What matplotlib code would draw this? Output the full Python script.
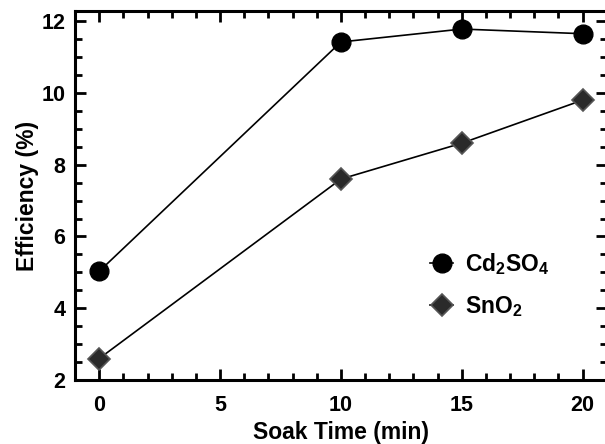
import matplotlib
matplotlib.use("Agg")
import matplotlib.pyplot as plt
from matplotlib.ticker import MultipleLocator

plt.rcParams['font.family'] = 'Liberation Sans'
plt.rcParams['font.weight'] = 'bold'
plt.rcParams['mathtext.fontset'] = 'custom'
plt.rcParams['mathtext.rm'] = 'Liberation Sans:bold'
plt.rcParams['mathtext.bf'] = 'Liberation Sans:bold'
plt.rcParams['mathtext.it'] = 'Liberation Sans:bold'

# data
soak_time = [0, 10, 15, 20]
cd2so4 = [5.03, 11.42, 11.78, 11.65]
sno2 = [2.6, 7.6, 8.6, 9.8]

fig = plt.figure(figsize=(6.05, 4.44), dpi=100)
ax = fig.add_axes([0.124, 0.144, 0.879, 0.831])

ax.plot(soak_time, cd2so4, color='black', lw=1.2, marker='o', ms=13.5,
        mfc='black', mec='black', label=r'$\mathrm{Cd_2SO_4}$')
ax.plot(soak_time, sno2, color='black', lw=1.2, marker='D', ms=11,
        mfc='#2a2a2a', mec='#555555', mew=1.2, label=r'$\mathrm{SnO_2}$')

ax.set_xlim(-1, 21)
ax.set_ylim(2, 12.28)
ax.xaxis.set_major_locator(MultipleLocator(5))
ax.xaxis.set_minor_locator(MultipleLocator(1))
ax.yaxis.set_major_locator(MultipleLocator(2))
ax.yaxis.set_minor_locator(MultipleLocator(0.5))

for s in ax.spines.values():
    s.set_linewidth(2.2)
ax.tick_params(which='both', direction='in', top=True, right=True, width=2)
ax.tick_params(which='major', length=8, labelsize=15.5)
ax.tick_params(which='minor', length=5)
ax.tick_params(axis='x', which='major', pad=11)
ax.tick_params(axis='y', which='major', pad=7)

ax.set_xlabel('Soak Time (min)', fontsize=16.5, fontweight='bold', labelpad=3)
ax.set_ylabel('Efficiency (%)', fontsize=16.5, fontweight='bold', labelpad=2)

ax.legend(loc='lower right', bbox_to_anchor=(0.93, 0.11), frameon=False,
          fontsize=16.5, handletextpad=0.5, labelspacing=0.75, handlelength=1.0)

fig.savefig('out.png', dpi=100)
